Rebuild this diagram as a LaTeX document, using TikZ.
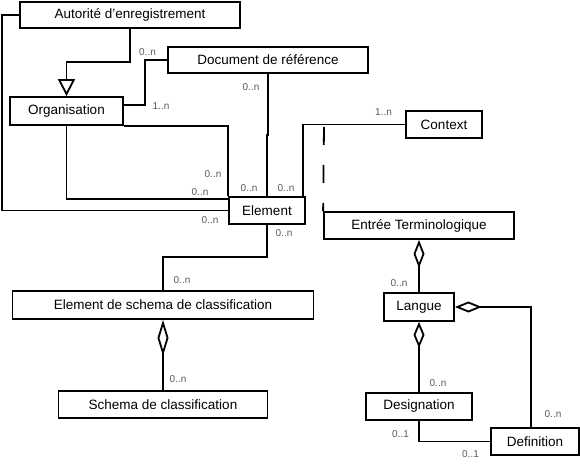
\documentclass[tikz,border=0pt]{standalone}
\usepackage{fontspec}
\setmainfont{Liberation Sans}
\usetikzlibrary{arrows.meta}
\tikzset{
  box/.style={draw, line width=1.8pt, rectangle, inner sep=0pt, font=\fontsize{13.5}{15}\selectfont, fill=white},
  conn/.style={line width=1.8pt},
  mult/.style={font=\fontsize{10}{11}\selectfont, text=black!65, inner sep=0pt},
  gen/.style={conn, -{Triangle[open, length=17pt, width=17pt]}},
}
\begin{document}
\begin{tikzpicture}[x=1pt, y=-1pt]
\useasboundingbox (0,0) rectangle (580,473);
% boxes
\node[box, minimum width=220pt, minimum height=26pt] (aut) at (130,15) {Autorité d’enregistrement};
\node[box, minimum width=113pt, minimum height=28pt] (org) at (66.5,111) {Organisation};
\node[box, minimum width=200pt, minimum height=26pt] (doc) at (268,60) {Document de référence};
\node[box, minimum width=76pt, minimum height=27pt] (ctx) at (444,124.5) {Context};
\node[box, minimum width=76pt, minimum height=27pt] (elem) at (267,210.5) {Element};
\node[box, minimum width=190pt, minimum height=27pt] (ent) at (419,225.5) {Entrée Terminologique};
\node[box, minimum width=301pt, minimum height=28pt] (esc) at (163,305) {Element de schema de classification};
\node[box, minimum width=209pt, minimum height=27pt] (sch) at (163,404.5) {Schema de classification};
\node[box, minimum width=70pt, minimum height=28pt] (lang) at (419,307) {Langue};
\node[box, minimum width=106pt, minimum height=27pt] (des) at (419,406.5) {Designation};
\node[box, minimum width=88pt, minimum height=27pt] (def) at (535,441.5) {Definition};
\coordinate (dstart) at (324,127);
% connectors
\draw[conn] (aut.west) -- (2,15) -- (2,210.5) -- (elem.west);
\draw[gen] (aut.south) -- (130,62) -| (org.north);
\draw[conn] (doc.west) -- (145,60) |- (org.east |- 0,105);
\draw[conn] (doc.south) -- (268,135) -- (267,135) -- (elem.north);
\draw[conn] (org.south east) -| (elem.north west);
\draw[conn] (org.south) |- (elem.west |- 0,199);
\draw[conn] (elem.north -| 303,0) |- (ctx.west);
\draw[conn, dash pattern=on 18pt off 20pt] (dstart) -- (ent.north west);
\draw[conn] (elem.south) -- (267,257) -| (esc.north);
\draw[conn, {Diamond[open, length=36pt, width=11pt]}-] (esc.south) -- (sch.north);
\draw[conn, {Diamond[open, length=28pt, width=11pt]}-] (ent.south) -- (lang.north);
\draw[conn, {Diamond[open, length=27pt, width=11pt]}-] (lang.east) -| (def.north -| 531,0);
\draw[conn, {Diamond[open, length=26pt, width=11pt]}-] (lang.south) -- (des.north);
\draw[conn] (des.south) |- (def.west);
% multiplicities
\node[mult] (m1) at (147.5,52) {0..n};
\node[mult] (m2) at (161,106) {1..n};
\node[mult] (m3) at (251,87) {0..n};
\node[mult] (m4) at (213,174.5) {0..n};
\node[mult] (m5) at (200,192) {0..n};
\node[mult] (m6) at (249,188) {0..n};
\node[mult] (m7) at (286,188) {0..n};
\node[mult] (m8) at (210,220.5) {0..n};
\node[mult] (m9) at (284,233) {0..n};
\node[mult] (m10) at (383.5,112) {1..n};
\node[mult] (m11) at (182,280) {0..n};
\node[mult] (m12) at (178,379) {0..n};
\node[mult] (m13) at (399,283) {0..n};
\node[mult] (m14) at (438,383) {0..n};
\node[mult] (m15) at (553,414) {0..n};
\node[mult] (m16) at (400.5,434) {0..1};
\node[mult] (m17) at (470.5,454.5) {0..1};
\end{tikzpicture}
\end{document}
